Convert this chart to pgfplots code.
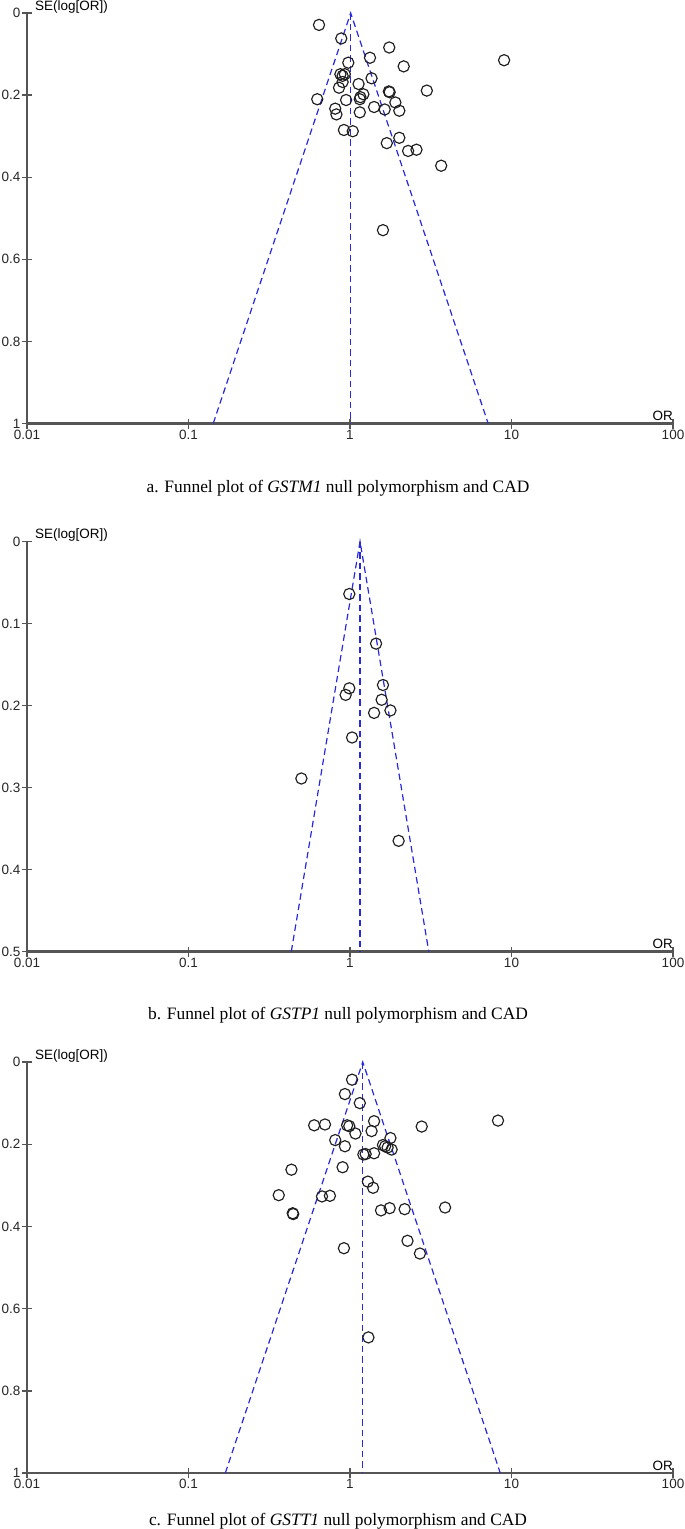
\documentclass[border=0pt]{standalone}
\usepackage{fontspec}
\setmainfont{Liberation Sans}
\newfontfamily\capfont{Liberation Serif}
\usepackage{pgfplots}
\pgfplotsset{compat=1.18}
\definecolor{funnelblue}{RGB}{40,40,220}
\definecolor{axgray}{RGB}{85,85,85}
\definecolor{ptcol}{RGB}{30,30,30}
\pgfplotsset{
  funnelax/.style={
    scale only axis, width=646pt, anchor=south west,
    xmin=0.01, xmax=100, y dir=reverse,
    axis x line=bottom, axis y line=left,
    axis line style={-, axgray, line width=1.8pt},
    x axis line style={line width=2.2pt},
    xtick={0.01,0.1,1,10,100}, xticklabels={0.01,0.1,1,10,100},
    xminorticks=false, yminorticks=false,
    tick align=center, major tick length=10pt,
    tick style={axgray, line width=1.4pt},
    tick label style={font=\fontsize{13.5}{16}\selectfont, text=black!85},
    /pgf/number format/assume math mode=true,
    xticklabel style={inner sep=1pt},
    yticklabel style={inner sep=1.5pt},
    clip=false,
  },
  pts/.style={only marks, mark=o, mark size=5.6pt, ptcol, mark options={line width=1.15pt}},
  fun/.style={funnelblue, line width=1.2pt, dash pattern=on 6.5pt off 4pt},
}
\begin{document}
\begin{tikzpicture}
\path[use as bounding box] (0pt,0pt) rectangle (685pt,-1529pt);
% ---------- a ----------
\begin{semilogxaxis}[funnelax, at={(27pt,-423.5pt)}, height=410.5pt, ymin=0, ymax=1,
  ytick={0,0.2,0.4,0.6,0.8,1}, yticklabels={0,0.2,0.4,0.6,0.8,1}]
\addplot[fun] coordinates {(0.1423,1) (1.01,0) (7.17,1)};
\addplot[fun] coordinates {(1.01,0) (1.01,1)};
\addplot[pts] coordinates {
(0.643,0.029) (0.883,0.062) (1.75,0.084) (9.0,0.115) (1.33,0.109) (0.976,0.121)
(2.15,0.130) (0.872,0.149) (0.929,0.149) (0.90,0.153) (1.36,0.159) (1.13,0.173)
(0.90,0.168) (0.855,0.182) (1.74,0.191) (1.76,0.193) (2.99,0.189) (0.627,0.210)
(0.946,0.212) (1.21,0.198) (1.16,0.205) (1.15,0.210) (1.91,0.218) (1.41,0.229)
(0.81,0.233) (1.64,0.235) (2.02,0.238) (0.824,0.247) (1.15,0.242) (0.917,0.285)
(1.04,0.288) (2.02,0.304) (1.69,0.317) (2.29,0.336) (2.58,0.333) (3.67,0.372)
(1.60,0.529)};
\node[anchor=south west, inner sep=0pt, xshift=8pt, font=\fontsize{13.5}{16}\selectfont] at (axis cs:0.01,0) {SE(log[OR])};
\node[anchor=south east, inner sep=0pt, yshift=2.5pt, font=\fontsize{13.5}{16}\selectfont] at (axis cs:100,1) {OR};
\end{semilogxaxis}
\node[anchor=base, font=\capfont\fontsize{17.4}{20}\selectfont] at (338pt,-492.7pt) {a. Funnel plot of \textit{GSTM1} null polymorphism and CAD};
% ---------- b ----------
\begin{semilogxaxis}[funnelax, at={(27pt,-951.5pt)}, height=410pt, ymin=0, ymax=0.5,
  ytick={0,0.1,0.2,0.3,0.4,0.5}, yticklabels={0,0.1,0.2,0.3,0.4,0.5}]
\addplot[fun] coordinates {(0.4331,0.5) (1.154,0) (3.075,0.5)};
\addplot[fun] coordinates {(1.154,0) (1.154,0.5)};
\addplot[pts] coordinates {
(0.99,0.064) (1.45,0.1245) (1.60,0.175) (0.99,0.179) (0.94,0.187) (1.57,0.193)
(1.78,0.206) (1.41,0.209) (1.03,0.239) (0.50,0.289) (2.0,0.365)};
\node[anchor=south west, inner sep=0pt, xshift=8pt, font=\fontsize{13.5}{16}\selectfont] at (axis cs:0.01,0) {SE(log[OR])};
\node[anchor=south east, inner sep=0pt, yshift=2.5pt, font=\fontsize{13.5}{16}\selectfont] at (axis cs:100,0.5) {OR};
\end{semilogxaxis}
\node[anchor=base, font=\capfont\fontsize{17.4}{20}\selectfont] at (338pt,-1019.5pt) {b. Funnel plot of \textit{GSTP1} null polymorphism and CAD};
% ---------- c ----------
\begin{semilogxaxis}[funnelax, at={(27pt,-1473pt)}, height=411pt, ymin=0, ymax=1,
  ytick={0,0.2,0.4,0.6,0.8,1}, yticklabels={0,0.2,0.4,0.6,0.8,1}]
\addplot[fun] coordinates {(0.169,1) (1.20,0) (8.52,1)};
\addplot[fun] coordinates {(1.20,0) (1.20,1)};
\addplot[pts] coordinates {
(1.03,0.043) (0.93,0.078) (1.15,0.100) (8.25,0.1425) (1.41,0.144) (0.60,0.154)
(0.70,0.152) (0.96,0.154) (0.99,0.156) (2.78,0.157) (1.36,0.168) (1.08,0.174)
(1.78,0.185) (0.81,0.190) (1.60,0.202) (1.65,0.205) (0.93,0.205) (1.81,0.213)
(1.71,0.208) (1.21,0.225) (1.25,0.224) (1.41,0.222) (0.434,0.262) (0.90,0.256)
(1.29,0.291) (1.39,0.306) (0.362,0.324) (0.671,0.327) (0.751,0.3255) (0.442,0.368)
(0.445,0.370) (1.556,0.361) (1.76,0.3555) (2.18,0.358) (3.88,0.354) (2.27,0.435)
(2.71,0.466) (0.917,0.453) (1.30,0.670)};
\node[anchor=south west, inner sep=0pt, xshift=8pt, font=\fontsize{13.5}{16}\selectfont] at (axis cs:0.01,0) {SE(log[OR])};
\node[anchor=south east, inner sep=0pt, yshift=2.5pt, font=\fontsize{13.5}{16}\selectfont] at (axis cs:100,1) {OR};
\end{semilogxaxis}
\node[anchor=base, font=\capfont\fontsize{17.4}{20}\selectfont] at (338pt,-1525pt) {c. Funnel plot of \textit{GSTT1} null polymorphism and CAD};
\end{tikzpicture}
\end{document}
